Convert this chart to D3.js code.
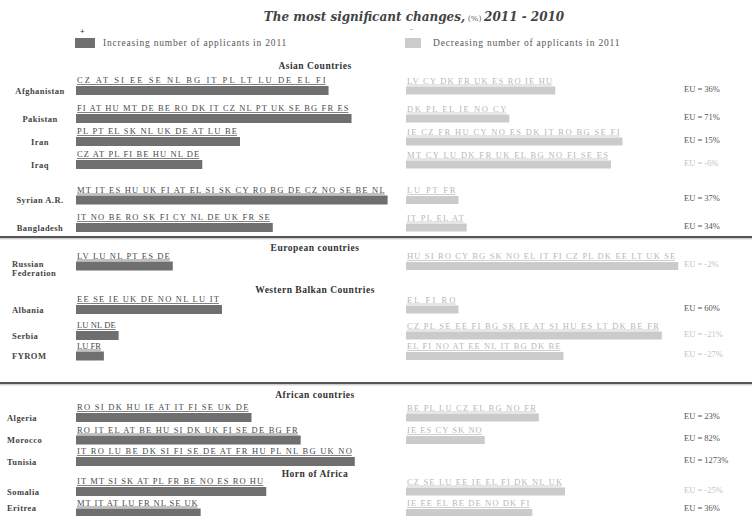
<!DOCTYPE html>
<html><head><meta charset="utf-8">
<script src="https://cdn.jsdelivr.net/npm/d3@7"></script>
<style>
html,body{margin:0;padding:0;background:#fff;}
svg{display:block;}
</style></head>
<body>
<script>
// ---------- DATA ----------
const countries = ["Afghanistan","Pakistan","Iran","Iraq","Syrian A.R.","Bangladesh",
  "Russian Federation","Albania","Serbia","FYROM",
  "Algeria","Morocco","Tunisia","Somalia","Eritrea"];
// bar length (number of Member States)
const increaseValues = [15.4,16.8,10,7.7,19,12, 5.9, 8.9,2.6,1.7, 10.7,13.7,17,11.6,7.6];
const decreaseValues = [9.1,6.3,13.2,12.5,3.2,3.7, 16.6, 3.2,15.6,9.6, 8.1,4.8,0,9.7,7.7];
const increaseCodes = [
  "CZ AT SI EE SE NL BG IT PL LT LU DE EL FI",
  "FI AT HU MT DE BE RO DK IT CZ NL PT UK SE BG FR ES",
  "PL PT EL SK NL UK DE AT LU BE",
  "CZ AT PL FI BE HU NL DE",
  "MT IT ES HU UK FI AT EL SI SK CY RO BG DE CZ NO SE BE NL",
  "IT NO BE RO SK FI CY NL DE UK FR SE",
  "LV LU NL PT ES DE",
  "EE SE IE UK DE NO NL LU IT",
  "LU NL DE",
  "LU FR",
  "RO SI DK HU IE AT IT FI SE UK DE",
  "RO IT EL AT BE HU SI DK UK FI SE DE BG FR",
  "IT RO LU BE DK SI FI SE DE AT FR HU PL NL BG UK NO",
  "IT MT SI SK AT PL FR BE NO ES RO HU",
  "MT IT AT LU FR NL SE UK"];
const decreaseCodes = [
  "LV CY DK FR UK ES RO IE HU",
  "DK PL EL IE NO CY",
  "IE CZ FR HU CY NO ES DK IT RO BG SE FI",
  "MT CY LU DK FR UK EL BG NO FI SE ES",
  "LU PT FR",
  "IT PL EL AT",
  "HU SI RO CY BG SK NO EL IT FI CZ PL DK EE LT UK SE",
  "EL FI RO",
  "CZ PL SE EE FI BG SK IE AT SI HU ES LT DK BE FR",
  "EL FI NO AT EE NL IT BG DK BE",
  "BE PL LU CZ EL BG NO FR",
  "IE ES CY SK NO",
  "",
  "CZ SE LU EE IE EL FI DK NL UK",
  "IE EE EL BE DE NO DK FI"];
const euChange = [36,71,15,-6,37,34, -2, 60,-21,-27, 23,82,1273,-25,36];
const groupNames = ["Asian Countries","European countries","Western Balkan Countries","African countries","Horn of Africa"];
const legendLabels = ["Increasing number of applicants in 2011","Decreasing number of applicants in 2011"];

// ---------- LAYOUT ----------
const W = 752, H = 516;
const rowCenters = [90.5,118.5,141.5,164.5,200,227.5, 266, 309.5,335.5,356, 417.5,440,461.5,491.5,513];
const headerBaselines = [69,251,293,398,477];
const separators = [237,383];
const leftX0 = 76, rightX0 = 406, unitPx = 16.4;
const colDark = "#6f6f6f", colLight = "#cbcbcb";

const svg = d3.select("body").append("svg").attr("width",W).attr("height",H);

const x = d3.scaleLinear().domain([0,20]).range([0, 20*unitPx]);
const y = d3.scaleOrdinal().domain(countries).range(rowCenters);

// title
const title = svg.append("text").attr("x",414).attr("y",21).attr("text-anchor","middle")
  .attr("fill","#444").style("font-family","'DejaVu Serif',serif");
title.append("tspan").text("The most significant changes,")
  .style("font-weight","bold").style("font-style","italic").style("font-size","12px");
title.append("tspan").text(" (%) ").style("font-size","8px").attr("fill","#666");
title.append("tspan").text("2011 - 2010")
  .style("font-weight","bold").style("font-style","italic").style("font-size","12px");

// legend
const legX = [75, 405];
legendLabels.forEach((t,i)=>{
  svg.append("rect").attr("x",legX[i]).attr("y",38).attr("width",i?16:20).attr("height",10)
    .attr("fill", i?colLight:colDark);
  svg.append("text").attr("x",legX[i]+5).attr("y",i?32:34).text(i?"-":"+")
    .attr("fill", i?"#999":"#333").style("font-family","'Liberation Serif',serif").style("font-size","8px").style("font-weight","bold");
  svg.append("text").attr("x",legX[i]+28).attr("y",46).text(t)
    .attr("fill","#555").style("font-family","'Liberation Serif',serif").style("font-size","9.5px")
    .style("letter-spacing","0.8px");
});

// separators
separators.forEach(s=>{
  svg.append("line").attr("x1",0).attr("x2",W).attr("y1",s).attr("y2",s).attr("stroke","#555").attr("stroke-width",2.2);
  svg.append("line").attr("x1",0).attr("x2",W).attr("y1",s+1.8).attr("y2",s+1.8).attr("stroke","#aaa").attr("stroke-width",0.8);
});

// group headers
groupNames.forEach((g,i)=>{
  svg.append("text").attr("x",315).attr("y",headerBaselines[i]).attr("text-anchor","middle").text(g)
    .attr("fill","#333").style("font-family","'Liberation Serif',serif").style("font-weight","bold")
    .style("font-size","9.5px").style("letter-spacing","0.5px");
});

// rows
const rows = countries.map((c,i)=>({c,i,inc:increaseValues[i],dec:decreaseValues[i],
  ic:increaseCodes[i],dc:decreaseCodes[i],eu:euChange[i]}));

const g = svg.append("g");
// country labels
rows.forEach(r=>{
  const t = g.append("text").attr("fill","#444").style("font-family","'Liberation Serif',serif")
    .style("font-weight","bold").style("font-size","8.5px").style("letter-spacing","0.45px");
  const cy = y(r.c);
  let lx, anchor;
  if (r.i < 6) { lx = 40; anchor = "middle"; }
  else if (r.i < 10) { lx = 12; anchor = "start"; }
  else { lx = 7; anchor = "start"; }
  t.attr("text-anchor",anchor);
  if (r.c === "Russian Federation") {
    t.append("tspan").attr("x",lx).attr("y",cy+1).text("Russian");
    t.append("tspan").attr("x",lx).attr("y",cy+10).text("Federation");
  } else {
    t.attr("x",lx).attr("y",Math.min(cy+3, H-5)).text(r.c);
  }
});

function drawSide(x0, key, codesKey, fill, textFill, h) {
  rows.forEach(r=>{
    const v = r[key]; if (!v) return;
    const cy = y(r.c);
    const w = x(v);
    g.append("rect").attr("x",x0).attr("y",cy-h/2).attr("width",w).attr("height",h).attr("fill",fill);
    const base = cy - h/2 - 3;
    const tl = w - 4;
    g.append("text").attr("x",x0+1).attr("y",base).text(r[codesKey])
      .attr("textLength",tl).attr("lengthAdjust","spacing")
      .attr("fill",textFill).style("font-family","'Liberation Serif',serif").style("font-size","8.5px");
    g.append("line").attr("x1",x0+1).attr("x2",x0+1+tl).attr("y1",base+1.5).attr("y2",base+1.5)
      .attr("stroke",textFill).attr("stroke-width",0.7);
  });
}
drawSide(leftX0,"inc","ic",colDark,"#4a4a4a",9);
drawSide(rightX0,"dec","dc",colLight,"#b8b8b8",8);

// EU labels
rows.forEach(r=>{
  g.append("text").attr("x",684).attr("y",Math.min(y(r.c)+1, H-5))
    .text("EU = " + r.eu + "%")
    .attr("fill", r.eu < 0 ? "#c4c4c4" : "#555")
    .style("font-family","'Liberation Serif',serif").style("font-size","8.5px");
});
</script>
</body></html>
